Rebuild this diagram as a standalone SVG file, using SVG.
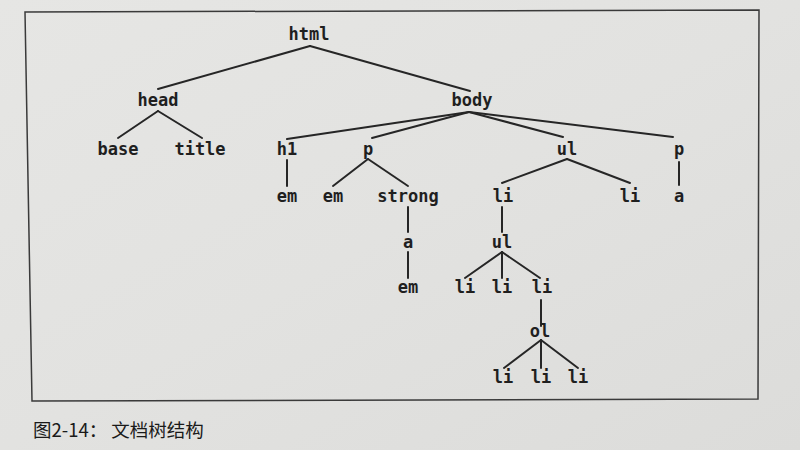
<svg xmlns="http://www.w3.org/2000/svg" width="800" height="450" viewBox="0 0 800 450">
  <defs>
    <linearGradient id="paper" x1="0" y1="0" x2="1" y2="1">
      <stop offset="0" stop-color="#e6e6e4"/>
      <stop offset="0.5" stop-color="#e2e2e0"/>
      <stop offset="1" stop-color="#dcdcda"/>
    </linearGradient>
    <style>
      .n { font-family: "DejaVu Sans Mono", "Liberation Mono", monospace; font-size: 17px; font-weight: bold; fill: #1f1f1f; text-anchor: middle; }
      .e { stroke: #262626; stroke-width: 2; fill: none; stroke-linecap: round; }
      .frame { stroke: #3a3a3a; stroke-width: 1.5; fill: none; }
      .cap { font-family: "Noto Sans CJK SC", "Noto Sans", sans-serif; font-size: 18.5px; fill: #1a1a1a; }
    </style>
  </defs>
  <rect x="0" y="0" width="800" height="450" fill="url(#paper)"/>
  <path class="frame" d="M25,12 L759,10 L758,399 L32,401 Z"/>

  <g id="connectors">
    <path class="e" d="M310,46 L158,89"/>
    <path class="e" d="M310,46 L470,91"/>
    <path class="e" d="M158,111 L118,138"/>
    <path class="e" d="M158,111 L202,138"/>
    <path class="e" d="M469,112 L287,139"/>
    <path class="e" d="M469,112 L372,138"/>
    <path class="e" d="M469,112 L563,137"/>
    <path class="e" d="M469,112 L673,137"/>
    <path class="e" d="M287,160 L287,186"/>
    <path class="e" d="M368,159 L333,186"/>
    <path class="e" d="M368,159 L408,186"/>
    <path class="e" d="M567,159 L502,183"/>
    <path class="e" d="M567,159 L630,183"/>
    <path class="e" d="M679,162 L679,185"/>
    <path class="e" d="M408,207 L408,232"/>
    <path class="e" d="M408,252 L408,278"/>
    <path class="e" d="M502,207 L502,232"/>
    <path class="e" d="M502,252 L465,278"/>
    <path class="e" d="M502,252 L502,278"/>
    <path class="e" d="M502,252 L540,278"/>
    <path class="e" d="M541,300 L541,326"/>
    <path class="e" d="M541,340 L504,368"/>
    <path class="e" d="M541,340 L541,368"/>
    <path class="e" d="M541,340 L578,368"/>
  </g>

  <g id="n-html"><text class="n" x="309" y="40">html</text></g>
  <g id="n-head"><text class="n" x="158" y="106">head</text></g>
  <g id="n-body"><text class="n" x="472" y="106">body</text></g>
  <g id="n-base"><text class="n" x="118" y="155">base</text></g>
  <g id="n-title"><text class="n" x="200" y="155">title</text></g>
  <g id="n-h1"><text class="n" x="287" y="155">h1</text></g>
  <g id="n-p1"><text class="n" x="368" y="155">p</text></g>
  <g id="n-ul1"><text class="n" x="567" y="155">ul</text></g>
  <g id="n-p2"><text class="n" x="679" y="155">p</text></g>
  <g id="n-em1"><text class="n" x="287" y="202">em</text></g>
  <g id="n-em2"><text class="n" x="333" y="202">em</text></g>
  <g id="n-strong"><text class="n" x="408" y="202">strong</text></g>
  <g id="n-li1"><text class="n" x="503" y="202">li</text></g>
  <g id="n-li2"><text class="n" x="630" y="202">li</text></g>
  <g id="n-a2"><text class="n" x="679" y="202">a</text></g>
  <g id="n-a1"><text class="n" x="408" y="248">a</text></g>
  <g id="n-ul2"><text class="n" x="502" y="248">ul</text></g>
  <g id="n-em3"><text class="n" x="408" y="293">em</text></g>
  <g id="n-li3"><text class="n" x="465" y="293">li</text></g>
  <g id="n-li4"><text class="n" x="502" y="293">li</text></g>
  <g id="n-li5"><text class="n" x="542" y="293">li</text></g>
  <g id="n-ol"><text class="n" x="540" y="337">ol</text></g>
  <g id="n-li6"><text class="n" x="503" y="383">li</text></g>
  <g id="n-li7"><text class="n" x="541" y="383">li</text></g>
  <g id="n-li8"><text class="n" x="578" y="383">li</text></g>

  <text class="cap" x="33" y="437">图2-14： 文档树结构</text>
</svg>
